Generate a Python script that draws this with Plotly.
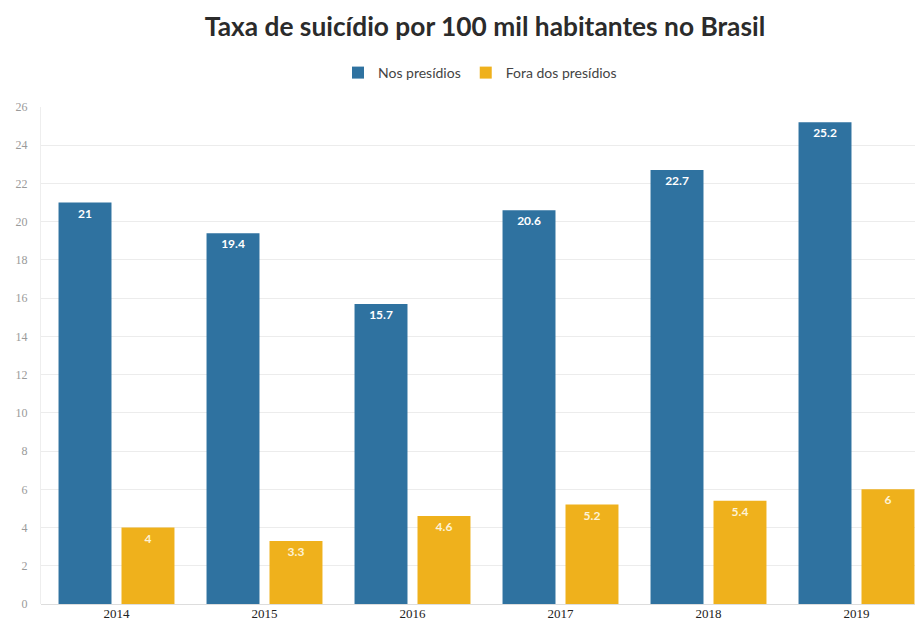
import plotly.graph_objects as go

years = ["2014", "2015", "2016", "2017", "2018", "2019"]
nos_presidios = [21, 19.4, 15.7, 20.6, 22.7, 25.2]
fora_presidios = [4, 3.3, 4.6, 5.2, 5.4, 6]
y_ticks = list(range(0, 27, 2))

blue = "#2f72a0"
yellow = "#efb11c"

W, H = 915, 622

fig = go.Figure()
fig.add_trace(go.Bar(
    x=years, y=nos_presidios, name="Nos presídios",
    marker=dict(color=blue, line=dict(width=0)),
    text=[f"{v:g}" for v in nos_presidios], textposition="inside",
    insidetextanchor="end",
    textfont=dict(color="white", size=12, family="Lato", weight="bold"),
))
fig.add_trace(go.Bar(
    x=years, y=fora_presidios, name="Fora dos presídios",
    marker=dict(color=yellow, line=dict(width=0)),
    text=[f"{v:g}" for v in fora_presidios], textposition="inside",
    insidetextanchor="end",
    textfont=dict(color="#fdf3d6", size=12, family="Lato", weight="bold"),
))

shift = 1.5 / 148
fig.update_layout(
    width=W, height=H,
    paper_bgcolor="white", plot_bgcolor="white",
    margin=dict(l=33, r=0, t=99, b=26),
    barmode="group", bargap=0.149, bargroupgap=0.159,
    title=dict(text="<b>Taxa de suicídio por 100 mil habitantes no Brasil</b>",
               x=477 / W, xanchor="center", y=1 - 19 / H, yanchor="middle",
               xref="container", yref="container",
               font=dict(family="Lato", size=26.3, color="#2b2b2b")),
    legend=dict(orientation="h", x=472 / W, xanchor="center", y=1 - 65 / H,
                xref="container", yanchor="middle", yref="container",
                font=dict(family="Lato", size=14, color="#444444"),
                itemwidth=30, itemsizing="constant", tracegroupgap=0,
                traceorder="normal"),
    font=dict(family="Lato"),
    uniformtext=dict(minsize=8, mode="show"),
)
fig.update_xaxes(
    range=[-0.5 - shift, -0.5 - shift + 882 / 148], showgrid=False, showline=False,
    ticks="", tickfont=dict(family="Liberation Serif", size=13, color="#222222"),
    fixedrange=True,
)
fig.update_yaxes(
    range=[0, 26], tickvals=y_ticks, showgrid=True, gridcolor="#ececec",
    gridwidth=1, zeroline=True, zerolinecolor="#dddddd", zerolinewidth=1,
    showline=True, linecolor="#eeeeee", linewidth=1,
    tickfont=dict(family="Liberation Serif", size=12, color="#9a9a9a"),
    ticks="", ticklabelstandoff=10,
)

fig.write_html("out.html")
